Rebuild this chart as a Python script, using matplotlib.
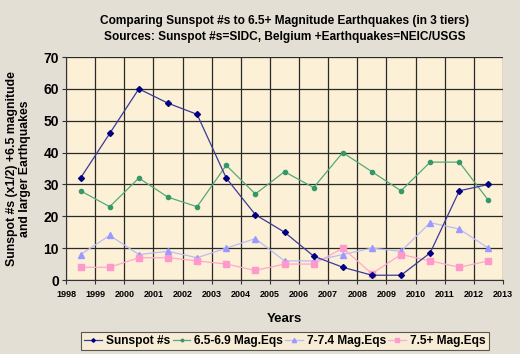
import matplotlib
matplotlib.use("Agg")
import matplotlib.pyplot as plt
import numpy as np

years = [1998.5, 1999.5, 2000.5, 2001.5, 2002.5, 2003.5, 2004.5, 2005.5,
         2006.5, 2007.5, 2008.5, 2009.5, 2010.5, 2011.5, 2012.5]
sunspot = [32, 46, 60, 55.5, 52, 32, 20.5, 15, 7.5, 4, 1.5, 1.5, 8.5, 28, 30]
mag65 = [28, 23, 32, 26, 23, 36, 27, 34, 29, 40, 34, 28, 37, 37, 25]
mag70 = [8, 14, 8, 9, 7, 10, 13, 6, 6, 8, 10, 9, 18, 16, 10]
mag75 = [4, 4, 7, 7, 6, 5, 3, 5, 5, 10, 2, 8, 6, 4, 6]
xticks = list(range(1998, 2014))
yticks = list(range(0, 71, 10))

plt.rcParams['font.family'] = ['Liberation Sans', 'DejaVu Sans']
plt.rcParams['font.weight'] = 'bold'

fig = plt.figure(figsize=(5.2, 3.54), dpi=100)
fig.patch.set_facecolor('#E4DFD4')
ax = fig.add_axes([66/520, 1-280/354, (503-66)/520, (280-57)/354])
ax.set_facecolor('#FCF0D6')

ax.plot(years, sunspot, color='#3A3A9A', lw=0.9, marker='D', ms=3,
        mfc='#000080', mec='#000080', label='Sunspot #s', zorder=5)
ax.plot(years, mag65, color='#55AA77', lw=0.9, marker='o', ms=3,
        mfc='#339966', mec='#339966', label='6.5-6.9 Mag.Eqs', zorder=4)
ax.plot(years, mag70, color='#BBBBF5', lw=0.9, marker='^', ms=5,
        mfc='#9999FF', mec='#9999FF', label='7-7.4 Mag.Eqs', zorder=3)
ax.plot(years, mag75, color='#FFA8D0', lw=0.9, marker='s', ms=4,
        mfc='#FF99CC', mec='#FF99CC', label='7.5+ Mag.Eqs', zorder=3)

ax.set_xlim(1998, 2013)
ax.set_ylim(0, 70)
ax.set_xticks(xticks)
ax.set_yticks(yticks)
ax.set_xticklabels([str(t) for t in xticks], fontsize=6.5, fontweight='bold')
ax.set_yticklabels([str(t) for t in yticks], fontsize=10, fontweight='bold')
ax.grid(True, color='#2A2A2A', lw=0.9)
ax.set_axisbelow(True)
ax.tick_params(axis='both', direction='out', length=3, color='#333333', pad=2)
ax.tick_params(axis='x', pad=4)
for side in ['top', 'right']:
    ax.spines[side].set_visible(False)
ax.spines['left'].set_color('#333333')
ax.spines['bottom'].set_color('#333333')

ax.set_title('Comparing Sunspot #s to 6.5+ Magnitude Earthquakes (in 3 tiers)\n'
             'Sources: Sunspot #s=SIDC, Belgium +Earthquakes=NEIC/USGS',
             fontsize=8.6, fontweight='bold', pad=12, linespacing=1.45)
ax.set_xlabel('Years', fontsize=9.5, fontweight='bold', labelpad=10)
ax.set_ylabel('Sunspot #s (x1/2) +6.5 magnitude\nand larger Earthquakes',
              fontsize=8.8, fontweight='bold', labelpad=9, linespacing=1.15)

leg = fig.legend(loc='center', bbox_to_anchor=(285/520, 1-341/354), ncol=4,
                 fontsize=8.6, frameon=True, fancybox=False, handlelength=1.5,
                 handletextpad=0.3, columnspacing=0.2, borderpad=0.25,
                 markerscale=0.6)
leg.get_frame().set_facecolor('#FCF0D6')
leg.get_frame().set_edgecolor('#333333')
leg.get_frame().set_linewidth(0.8)
for t in leg.get_texts():
    t.set_fontweight('bold')

fig.savefig('out.png', dpi=100, facecolor=fig.get_facecolor())
